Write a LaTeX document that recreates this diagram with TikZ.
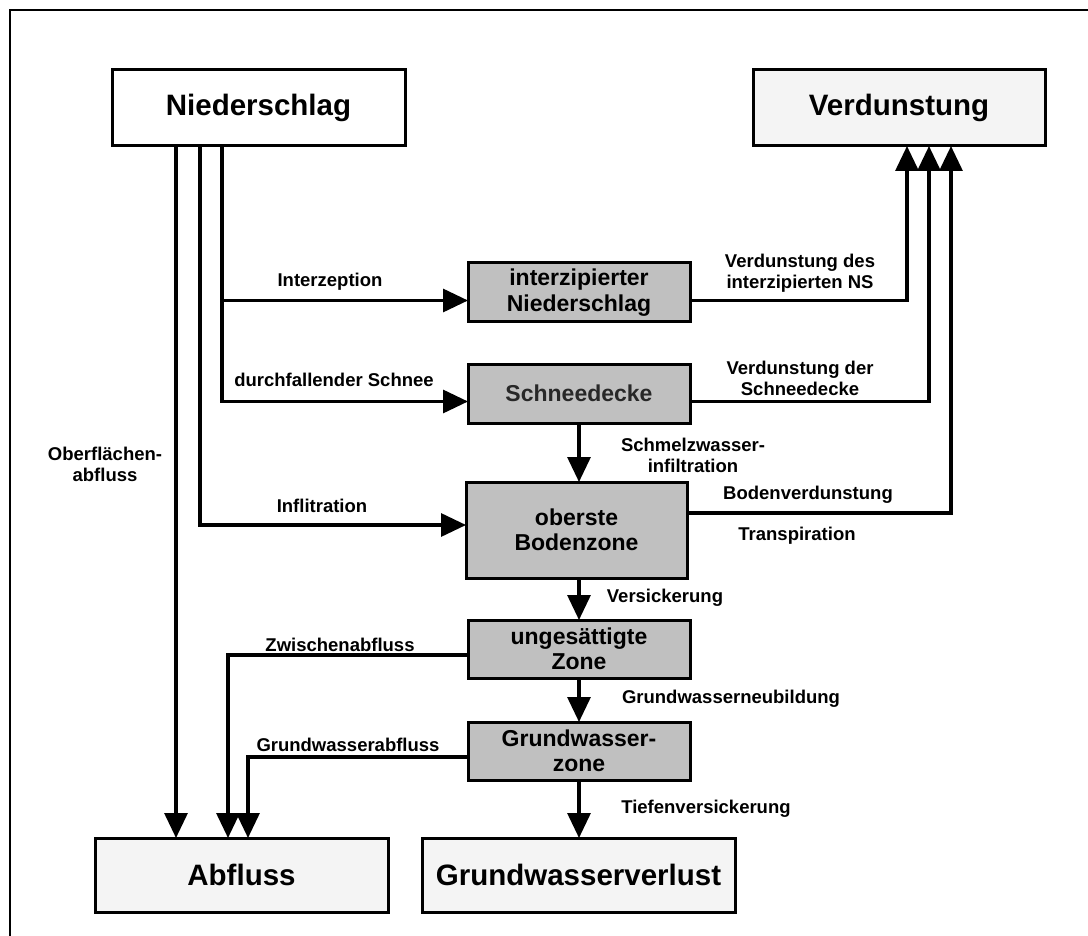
\documentclass[tikz,border=0pt]{standalone}
\usepackage{fontspec}
\setmainfont{Liberation Sans}
\usetikzlibrary{arrows.meta}
\definecolor{boxgray}{RGB}{192,192,192}
\definecolor{boxlight}{RGB}{244,244,244}
\definecolor{snowtext}{RGB}{40,40,40}
\begin{document}
\begin{tikzpicture}[x=1pt,y=-1pt,
  every node/.style={inner sep=0pt, outer sep=0pt},
  mainbox/.style={draw, line width=3pt, fill=#1, font=\bfseries\fontsize{29.5}{32}\selectfont},
  zonebox/.style={draw, line width=3pt, fill=boxgray, align=center, font=\bfseries\fontsize{23}{25.5}\selectfont},
  lbl/.style={align=center, font=\bfseries\fontsize{18.5}{21}\selectfont},
  flow/.style={line width=3.2pt, -{Triangle[length=25pt,width=23pt]}},
]
\useasboundingbox (0,0) rectangle (1088,936);
% outer frame (top and left edges)
\draw[line width=2pt] (10,945) -- (10,10) -- (1095,10);

% compartments
\node[mainbox=white, minimum width=293pt, minimum height=76pt] (nied) at (258.5,108) {Niederschlag};
\node[mainbox=boxlight, minimum width=292pt, minimum height=76pt] (verd) at (899,108) {Verdunstung};
\node[zonebox, minimum width=222pt, minimum height=59pt] (interz) at (579,292.5) {interzipierter\\Niederschlag};
\node[zonebox, minimum width=222pt, minimum height=59pt, text=snowtext] (schnee) at (579,393.5) {Schneedecke};
\node[zonebox, minimum width=221pt, minimum height=96pt] (boden) at (576.5,530) {oberste\\Bodenzone};
\node[zonebox, minimum width=222pt, minimum height=58pt] (unges) at (579,649) {ungesättigte\\Zone};
\node[zonebox, minimum width=222pt, minimum height=58pt] (gwz) at (579,751) {Grundwasser-\\zone};
\node[mainbox=boxlight, minimum width=293pt, minimum height=74pt] (abfl) at (241.5,875) {Abfluss};
\node[mainbox=boxlight, minimum width=313pt, minimum height=74pt] (verl) at (578.5,875) {Grundwasserverlust};

% x positions of the parallel flow lines
\coordinate (xA) at (176,0);
\coordinate (xB) at (200,0);
\coordinate (xC) at (222,0);
\coordinate (xD) at (228,0);
\coordinate (xE) at (248,0);
\coordinate (vA) at (907,0);
\coordinate (vB) at (929,0);
\coordinate (vC) at (951,0);

% precipitation paths
\draw[flow] (nied.south -| xA) -- (abfl.north -| xA);
\draw[flow] (nied.south -| xB) |- ([yshift=5pt]boden.west);
\draw[flow] (nied.south -| xC) |- ([yshift=-8pt]schnee.west);
\draw[flow] ([yshift=-8pt]interz.west -| xC) -- ([yshift=-8pt]interz.west);

% evaporation paths
\draw[flow] ([yshift=-8pt]interz.east) -| (verd.south -| vA);
\draw[flow] ([yshift=-8pt]schnee.east) -| (verd.south -| vB);
\draw[flow] ([yshift=17pt]boden.east) -| (verd.south -| vC);

% vertical percolation
\draw[flow] (schnee.south) -- (schnee.south |- boden.north);
\draw[flow] (boden.south -| unges.north) -- (unges.north);
\draw[flow] (unges.south) -- (gwz.north);
\draw[flow] (gwz.south) -- (gwz.south |- verl.north);

% lateral runoff
\draw[flow] ([yshift=-6pt]unges.west) -| (abfl.north -| xD);
\draw[flow] ([yshift=-6pt]gwz.west) -| (abfl.north -| xE);

% flow labels
\node[lbl] (lInt) at (330,282) {Interzeption};
\node[lbl] (lSchnee) at (334,380) {durchfallender Schnee};
\node[lbl] (lInfl) at (322,506) {Inflitration};
\node[lbl] (lOber) at (105,464) {Oberflächen-\\abfluss};
\node[lbl] (lVInt) at (800,273) {Verdunstung des\\interzipierten NS};
\node[lbl] (lVSch) at (800,378) {Verdunstung der\\Schneedecke};
\node[lbl] (lSchm) at (693,455) {Schmelzwasser-\\infiltration};
\node[lbl] (lBoden) at (808,495) {Bodenverdunstung};
\node[lbl] (lTrans) at (797,536) {Transpiration};
\node[lbl] (lVers) at (665,598) {Versickerung};
\node[lbl] (lZw) at (340,645) {Zwischenabfluss};
\node[lbl] (lNeu) at (731,699) {Grundwasserneubildung};
\node[lbl] (lGwa) at (348,745) {Grundwasserabfluss};
\node[lbl] (lTief) at (706,809) {Tiefenversickerung};
\end{tikzpicture}
\end{document}
